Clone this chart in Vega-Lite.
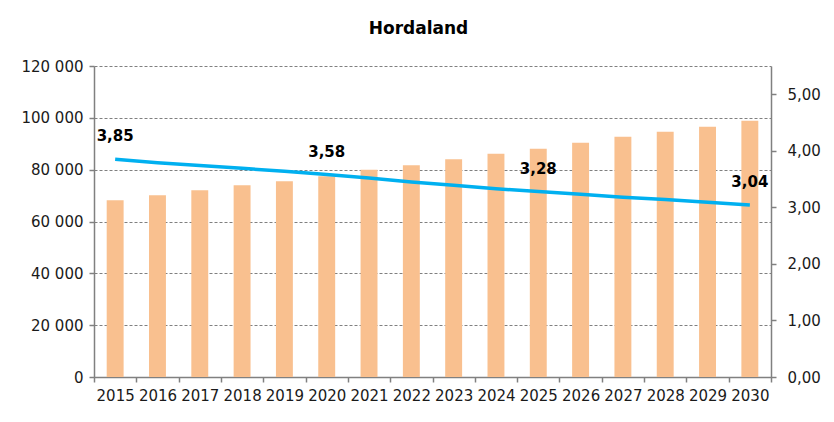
{
  "$schema": "https://vega.github.io/schema/vega-lite/v6.json",
  "autosize": "none",
  "width": 677,
  "height": 311,
  "padding": {"left": 94, "top": 66, "right": 63, "bottom": 45},
  "background": "white",
  "config": {
    "locale": {"number": {"decimal": ",", "thousands": " ", "grouping": [3], "currency": ["", " kr"]}},
    "view": {"stroke": null},
    "font": "DejaVu Sans",
    "axis": {"labelFont": "DejaVu Sans", "labelFontSize": 15, "labelColor": "#1a1a1a", "domainColor": "#808080", "tickColor": "#808080", "domainWidth": 1.5, "tickWidth": 1.5, "tickSize": 5}
  },
  "title": {"text": "Hordaland", "font": "DejaVu Sans", "fontSize": 17, "fontWeight": "bold", "color": "#000", "anchor": "middle", "dx": -14, "offset": 21},
  "data": {"values": [
    {"year": 2015, "pop": 68200, "ratio": 3.85},
    {"year": 2016, "pop": 70100, "ratio": 3.79},
    {"year": 2017, "pop": 72050, "ratio": 3.74},
    {"year": 2018, "pop": 74000, "ratio": 3.69},
    {"year": 2019, "pop": 75500, "ratio": 3.64},
    {"year": 2020, "pop": 77450, "ratio": 3.58},
    {"year": 2021, "pop": 80000, "ratio": 3.52},
    {"year": 2022, "pop": 81700, "ratio": 3.45},
    {"year": 2023, "pop": 84000, "ratio": 3.39},
    {"year": 2024, "pop": 86150, "ratio": 3.33},
    {"year": 2025, "pop": 88100, "ratio": 3.28},
    {"year": 2026, "pop": 90400, "ratio": 3.23},
    {"year": 2027, "pop": 92700, "ratio": 3.18},
    {"year": 2028, "pop": 94650, "ratio": 3.14},
    {"year": 2029, "pop": 96600, "ratio": 3.09},
    {"year": 2030, "pop": 98900, "ratio": 3.04}
  ]},
  "encoding": {
    "x": {"field": "year", "type": "ordinal", "scale": {"paddingInner": 0, "paddingOuter": 0},
      "axis": {"title": null, "labelAngle": 0, "tickBand": "extent", "labelPadding": 6, "grid": false}}
  },
  "layer": [
    {
      "mark": {"type": "bar", "color": "#F9C08F", "width": {"band": 0.4}},
      "encoding": {
        "y": {"field": "pop", "type": "quantitative", "scale": {"domain": [0, 120000], "nice": false},
          "axis": {"title": null, "values": [0, 20000, 40000, 60000, 80000, 100000, 120000], "format": ",d", "grid": true, "gridDash": [3, 2], "gridColor": "#808080", "gridWidth": 1, "labelPadding": 6}}
      }
    },
    {
      "layer": [
        {
          "mark": {"type": "line", "color": "#00B0F0", "strokeWidth": 3.5},
          "encoding": {
            "y": {"field": "ratio", "type": "quantitative", "scale": {"domain": [0, 5.5], "nice": false, "zero": true},
              "axis": {"title": null, "orient": "right", "values": [0, 1, 2, 3, 4, 5], "format": ".2f", "grid": false, "labelPadding": 11}}
          }
        },
        {
          "transform": [{"filter": {"field": "year", "oneOf": [2015, 2020, 2025, 2030]}}],
          "mark": {"type": "text", "fontWeight": "bold", "fontSize": 15, "dy": -23, "baseline": "middle", "color": "#000"},
          "encoding": {
            "y": {"field": "ratio", "type": "quantitative"},
            "text": {"field": "ratio", "type": "quantitative", "format": ".2f"}
          }
        }
      ]
    }
  ],
  "resolve": {"scale": {"y": "independent"}}
}
